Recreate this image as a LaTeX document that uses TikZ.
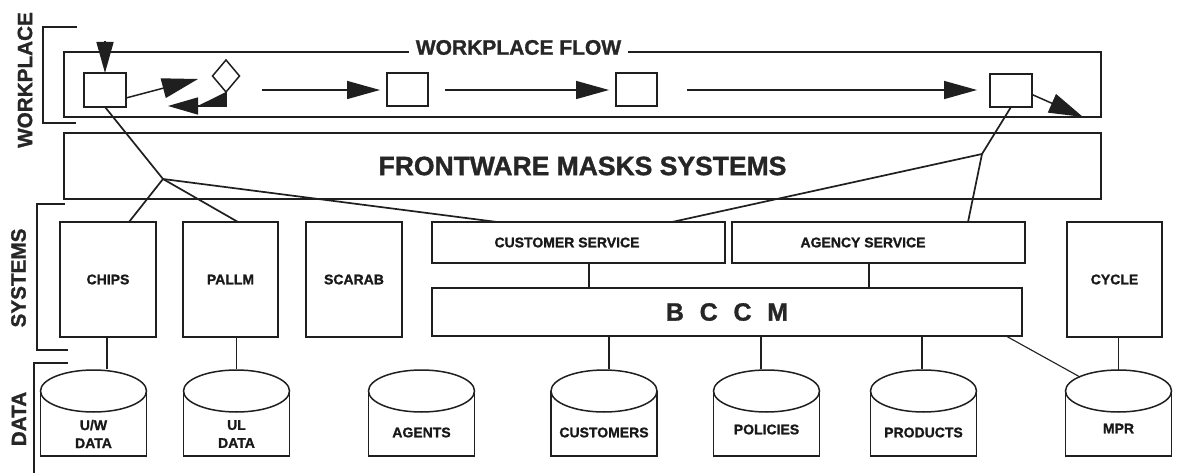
\documentclass[tikz,border=0pt]{standalone}
\usepackage{fontspec}
\setmainfont{Liberation Sans}[BoldFeatures={FakeBold=1.2}]
\usetikzlibrary{arrows.meta,shapes.geometric,calc}

% database drum: name, x centre, label yshift, label text
\newcommand\dbcyl[4]{%
  \node[dbnode] (#1) at (#2,412.5) {};
  \draw[edgeline] ([yshift=-22pt]#1.north west) -- (#1.south west) -- (#1.south east) -- ([yshift=-22pt]#1.north east);
  \draw[edgeline] ([yshift=-22pt]#1.north) ellipse [x radius=53, y radius=21];
  \node[dblabel] (#1-t) at ([yshift=#3]#1.center) {#4};
}

\begin{document}
\begin{tikzpicture}[x=1pt,y=-1pt,
  edgeline/.style={draw=black!88, line width=1.5pt},
  sysbox/.style={edgeline, rectangle, inner sep=0pt, outer sep=0pt,
    font=\bfseries\fontsize{14}{14}\selectfont, text=black!90},
  flowbox/.style={edgeline, rectangle, inner sep=0pt, outer sep=0pt},
  dbnode/.style={rectangle, inner sep=0pt, outer sep=0pt, draw=none,
    minimum width=106, minimum height=87},
  dblabel/.style={inner sep=0pt, align=center, text=black!90,
    font=\bfseries\fontsize{14}{18}\selectfont},
  sidelabel/.style={rotate=90, inner sep=0pt, text=black!85,
    font=\bfseries\fontsize{20.7}{20.7}\selectfont},
  conn/.style={draw=black!88, line width=1.7pt},
  link/.style={draw=black!88, line width=1.1pt},
  flowarr/.style={draw=black!88, line width=1.5pt, fill=black!88},
]
\useasboundingbox (0,0) rectangle (1177,473);
\fill[white] (0,0) rectangle (1177,473);

% ---- layer brackets and side labels
\draw[edgeline] (77,27) -- (43,27) -- (43,123) -- (76,123);
\draw[edgeline] (65,204) -- (37,204) -- (37,350) -- (68,350);
\draw[edgeline] (68,363) -- (34,363) -- (34,473);
\node[sidelabel] (lwp) at (25,80) {WORKPLACE};
\node[sidelabel] (lsys) at (18.5,278) {SYSTEMS};
\node[sidelabel] (ldata) at (19,419) {DATA};

% ---- workplace flow band
\node[flowbox, minimum width=1037, minimum height=65] (flow) at (582.5,84.5) {};
\node[fill=white, inner xsep=7pt, inner ysep=0pt, text=black!85,
  font=\bfseries\fontsize{21}{21}\selectfont] (flowt) at (518.5,47.5) {WORKPLACE FLOW};

\node[flowbox, minimum width=42, minimum height=34] (b1) at (105,90) {};
\node[diamond, edgeline, inner sep=0pt, outer sep=0pt, minimum width=27, minimum height=32] (dia) at (226,76) {};
\node[flowbox, minimum width=41, minimum height=33] (b2) at (407.5,89.5) {};
\node[flowbox, minimum width=41, minimum height=33] (b3) at (636.5,89.5) {};
\node[flowbox, minimum width=42, minimum height=33] (b4) at (1011,90.5) {};

\coordinate (in) at (105,41);
\coordinate (d1) at (198,79);
\coordinate (d2) at (168,106);
\coordinate (s2) at (262,90);
\coordinate (s3) at (445,90);
\coordinate (s4) at (687,90);
\coordinate (out) at (1083,117);

\draw[flowarr, -{Triangle[length=31pt,width=17pt]}] (in) -- (b1.north);
\draw[flowarr, -{Triangle[length=36pt,width=20pt]}] ([yshift=-8pt]b1.east) -- (d1);
\draw[flowarr, -{Triangle[length=30pt,width=17pt]}] (dia.south) |- (d2);
\draw[flowarr, shorten >=7pt, -{Triangle[length=33pt,width=18pt]}] (s2) -- (s2 -| b2.west);
\draw[flowarr, shorten >=7pt, -{Triangle[length=33pt,width=18pt]}] (s3) -- (s3 -| b3.west);
\draw[flowarr, shorten >=13pt, -{Triangle[length=33pt,width=18pt]}] (s4) -- (s4 -| b4.west);
\draw[flowarr, -{Triangle[length=34pt,width=20pt]}] ([yshift=-4pt]b4.east) -- (out);

% ---- frontware band
\node[flowbox, minimum width=1037, minimum height=66, text=black!85,
  font=\bfseries\fontsize{26.5}{26.5}\selectfont] (front) at (582.5,166) {FRONTWARE MASKS SYSTEMS};

% ---- systems layer
\node[sysbox, minimum width=96, minimum height=115] (chips) at (108,279.5) {CHIPS};
\node[sysbox, minimum width=95, minimum height=115] (pallm) at (230.5,279.5) {PALLM};
\node[sysbox, minimum width=96, minimum height=115] (scarab) at (354,279.5) {SCARAB};
\node[sysbox, minimum width=293, minimum height=41] (cust) at (578.5,242.5) {};
\node[text=black!90, font=\bfseries\fontsize{14}{14}\selectfont, inner sep=0pt] (custt) at (567,242.5) {CUSTOMER SERVICE};
\node[sysbox, minimum width=293, minimum height=41] (agency) at (878.5,242.5) {};
\node[text=black!90, font=\bfseries\fontsize{14}{14}\selectfont, inner sep=0pt] (agencyt) at (863,242.5) {AGENCY SERVICE};
\node[sysbox, minimum width=590, minimum height=48, text=black!85,
  font=\bfseries\fontsize{25}{25}\selectfont] (bccm) at (727,312)
  {B\hspace{0.63em}C\hspace{0.63em}C\hspace{0.63em}M};
\node[sysbox, minimum width=95, minimum height=115] (cycle) at (1114.5,279.5) {CYCLE};

% ---- fan-out from the flow steps to the systems
\coordinate (j1) at (163,179);
\coordinate (j2) at (982,154);
\draw[conn] (b1.south) -- (j1);
\draw[conn] (j1) -- ([xshift=21pt]chips.north);
\draw[conn] (j1) -- ([xshift=7.5pt]pallm.north);
\draw[conn] (j1) -- ([xshift=-81.5pt]cust.north);
\draw[conn] (b4.south) -- (j2);
\draw[conn] (j2) -- ([xshift=89.5pt]agency.north);
\draw[conn] (j2) -- ([xshift=93.5pt]cust.north);

% ---- data layer
\dbcyl{uw}{93.5}{-21.5pt}{U/W\\DATA}
\dbcyl{ul}{236.5}{-21.5pt}{UL\\DATA}
\dbcyl{agents}{421.5}{-20pt}{AGENTS}
\dbcyl{customers}{604}{-20pt}{CUSTOMERS}
\dbcyl{policies}{766.5}{-17pt}{POLICIES}
\dbcyl{products}{923.5}{-20pt}{PRODUCTS}
\dbcyl{mpr}{1118.5}{-16pt}{MPR}

% ---- vertical links
\draw[link] ([xshift=-1pt]chips.south) -- ([xshift=-1pt]chips.south |- uw.north);
\draw[link] (pallm.south -| ul.north) -- (ul.north);
\draw[link] ([xshift=10.5pt]cust.south) -- ([xshift=10.5pt]cust.south |- bccm.north);
\draw[link] ([xshift=-9.5pt]agency.south) -- ([xshift=-9.5pt]agency.south |- bccm.north);
\draw[link] ([xshift=5pt]customers.north |- bccm.south) -- ([xshift=5pt]customers.north);
\draw[link] ([xshift=-5.5pt]policies.north |- bccm.south) -- ([xshift=-5.5pt]policies.north);
\draw[link] ([xshift=-1.5pt]products.north |- bccm.south) -- ([xshift=-1.5pt]products.north);
\draw[link] (cycle.south -| mpr.north) -- ([yshift=-2pt]mpr.north);
\coordinate (mprtl) at ([xshift=-38.5pt,yshift=-8pt]mpr.north);
\draw[link] ([xshift=-16pt]bccm.south east) -- (mprtl);
\end{tikzpicture}
\end{document}
